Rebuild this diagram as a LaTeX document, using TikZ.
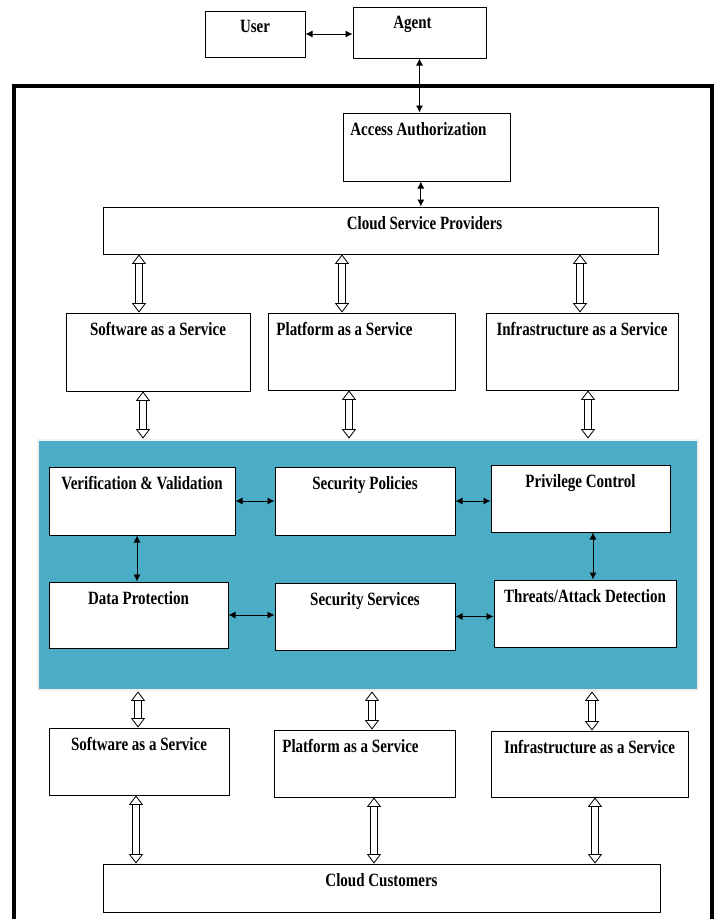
\documentclass[tikz,border=0pt]{standalone}
\usepackage{fontspec}
\setmainfont{Liberation Serif}
\newfontfamily\boxfont[FakeStretch=0.8]{Liberation Serif}
\usetikzlibrary{fit,arrows.meta}
\definecolor{secteal}{RGB}{75,172,198}
\tikzset{
	box/.style={draw=black, line width=0.8pt, fill=white, inner sep=0pt},
	panel/.style={draw=gray!12, line width=2.5pt, fill=secteal, inner sep=0pt},
	title/.style={anchor=north, inner sep=0pt, yshift=-8pt, font=\boxfont\bfseries\fontsize{16}{18}\selectfont},
	link/.style={{Latex[length=6pt,width=6pt]}-{Latex[length=6pt,width=6pt]}, line width=0.8pt},
	hollow/.style={draw=black, line width=6pt, shorten <=7pt, shorten >=7pt,
		postaction={draw=white, line width=4.5pt, shorten <=6.5pt, shorten >=6.5pt},
		postaction={draw=white, line width=0.1pt, shorten <=0pt, shorten >=0pt,
			{Triangle[color=black, fill=white, line width=0.7pt, length=8pt, width=12pt]}-{Triangle[color=black, fill=white, line width=0.7pt, length=8pt, width=12pt]}}}
}

\begin{document}
\begin{tikzpicture}[x=0.03cm, y=-0.03cm]
	\useasboundingbox (0,0) rectangle (716,919);
	% outer frame, open at the bottom
	\draw[line width=4.2pt] (14,930) -- (14,86) -- (712,86) -- (712,930);

	% user side
	\node[box, fit={(205,11) (305,57)}, label={[title]north:User}] (user) {};
	\node[box, fit={(353,7) (486,58)}, label={[title,xshift=-0.21cm]north:Agent}] (agent) {};
	\node[box, fit={(343,113) (510,181)}, label={[title,xshift=-0.24cm]north:Access Authorization}] (access) {};
	\node[box, fit={(103,207) (658,254)}, label={[title,xshift=1.32cm]north:Cloud Service Providers}] (csp) {};

	% services of the providers
	\node[box, fit={(66,313) (250,391)}, label={[title]north:Software as a Service}] (saas) {};
	\node[box, fit={(268,313) (455,390)}, label={[title,xshift=-0.51cm]north:Platform as a Service}] (paas) {};
	\node[box, fit={(486,313) (678,390)}, label={[title]north:Infrastructure as a Service}] (iaas) {};

	% security layer
	\node[panel, fit={(38,440) (698,690)}] (layer) {};
	\node[box, fit={(49,467) (235,535)}, label={[title]north:Verification \& Validation}] (verif) {};
	\node[box, fit={(275,467) (455,535)}, label={[title]north:Security Policies}] (policy) {};
	\node[box, fit={(491,465) (670,532)}, label={[title]north:Privilege Control}] (privilege) {};
	\node[box, fit={(49,582) (228,648)}, label={[title]north:Data Protection}] (protect) {};
	\node[box, fit={(275,583) (455,650)}, label={[title]north:Security Services}] (services) {};
	\node[box, fit={(494,580) (676,647)}, label={[title]north:Threats/Attack Detection}] (threat) {};

	% services of the customers
	\node[box, fit={(49,728) (229,795)}, label={[title]north:Software as a Service}] (saasc) {};
	\node[box, fit={(274,730) (455,797)}, label={[title,xshift=-0.42cm]north:Platform as a Service}] (paasc) {};
	\node[box, fit={(491,731) (688,797)}, label={[title]north:Infrastructure as a Service}] (iaasc) {};
	\node[box, fit={(103,864) (660,912)}, label={[title]north:Cloud Customers}] (customers) {};

	% plain links
	\draw[link] (user.east) -- (user.east -| agent.west);
	\draw[link] (agent.south) -- (agent.south |- access.north);
	\draw[link] ([xshift=-0.17cm]access.south) -- ([xshift=-0.17cm]access.south |- csp.north);
	\draw[link] (verif.east) -- (verif.east -| policy.west);
	\draw[link] (policy.east) -- (policy.east -| privilege.west);
	\draw[link] (137,0 |- verif.south) -- (137,0 |- protect.north);
	\draw[link] (593,0 |- privilege.south) -- (593,0 |- threat.north);
	\draw[link] (protect.east) -- (protect.east -| services.west);
	\draw[link] (services.east) -- (services.east -| threat.west);

	% hollow links
	\foreach \x/\n in {139/saas,342/paas,580/iaas}
		\path[hollow] (\x,0 |- csp.south) -- (\x,0 |- \n.north);
	\foreach \x/\n in {143/saas,349/paas,588/iaas}
		\path[hollow] (\x,0 |- \n.south) -- (\x,0 |- layer.north);
	\foreach \x/\n in {138/saasc,372/paasc,592/iaasc}
		\path[hollow] (\x,0 |- layer.south) -- (\x,0 |- \n.north);
	\foreach \x/\n in {136/saasc,374/paasc,595/iaasc}
		\path[hollow] (\x,0 |- \n.south) -- (\x,0 |- customers.north);
\end{tikzpicture}
\end{document}
